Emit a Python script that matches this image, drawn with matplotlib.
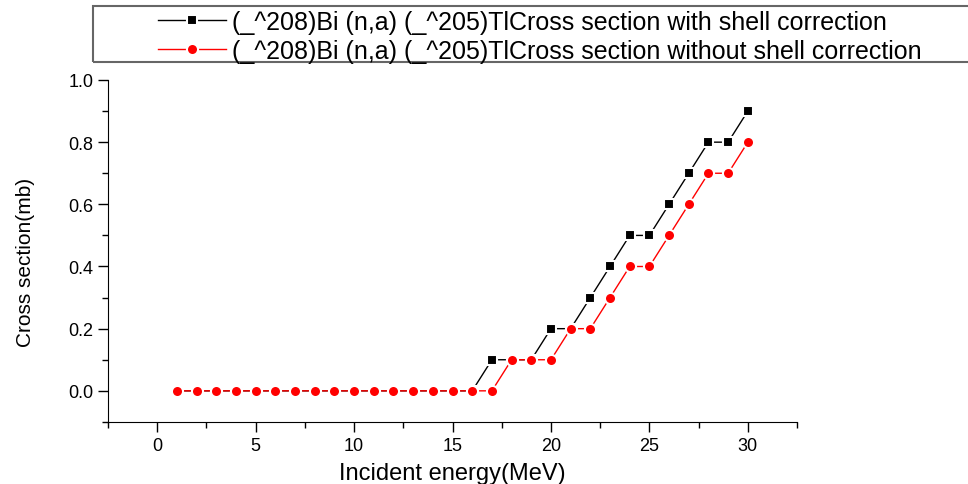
import numpy as np
import matplotlib
matplotlib.use("Agg")
from matplotlib import pyplot as plt
from matplotlib.patches import Rectangle

plt.rcParams['font.family'] = ['Liberation Sans', 'DejaVu Sans']

# incident energy (MeV)
energy = np.arange(1, 31)
# cross sections (mb)
with_shell = [0, 0, 0, 0, 0, 0, 0, 0, 0, 0, 0, 0, 0, 0, 0, 0,
              0.1, 0.1, 0.1, 0.2, 0.2, 0.3, 0.4, 0.5, 0.5, 0.6, 0.7, 0.8, 0.8, 0.9]
without_shell = [0, 0, 0, 0, 0, 0, 0, 0, 0, 0, 0, 0, 0, 0, 0, 0, 0,
                 0.1, 0.1, 0.1, 0.2, 0.2, 0.3, 0.4, 0.4, 0.5, 0.6, 0.7, 0.7, 0.8]
labels = ["(_^208)Bi (n,a) (_^205)TlCross section with shell correction",
          "(_^208)Bi (n,a) (_^205)TlCross section without shell correction"]

W, H = 968, 485
fig = plt.figure(figsize=(W / 100, H / 100), dpi=100)
ax = fig.add_axes([0.1116, 0.128, 0.7118, 0.705])

ax.plot(energy, with_shell, color='black', lw=1, marker='s', ms=7,
        mec='white', mew=1.5, label=labels[0])
ax.plot(energy, without_shell, color='red', lw=1, marker='o', ms=8,
        mec='white', mew=1.5, label=labels[1])

ax.set_xlim(-2.5, 32.5)
ax.set_ylim(-0.1, 1.0)
ax.set_xticks(np.arange(0, 31, 5))
ax.set_xticks(np.arange(-2.5, 32.6, 2.5), minor=True)
ax.set_yticks(np.arange(0, 1.01, 0.2))
ax.set_yticks(np.arange(-0.1, 1.01, 0.1), minor=True)
ax.set_yticklabels(["%.1f" % v for v in np.arange(0, 1.01, 0.2)])
ax.spines['top'].set_visible(False)
ax.spines['right'].set_visible(False)
ax.tick_params(direction='out', length=7, width=1, labelsize=13)
ax.tick_params(which='minor', direction='out', length=4, width=1)

ax.set_xlabel("Incident energy(MeV)", fontsize=17, labelpad=6)
ax.set_ylabel("Cross section(mb)", fontsize=15)
ax.yaxis.set_label_coords(-0.106, 0.47)

# legend without its own frame, Origin-like box drawn by hand
leg = fig.legend(loc='upper left', bbox_to_anchor=(158 / W, 1 - 11 / H),
                 fontsize=18, frameon=False, handlelength=2.7,
                 handletextpad=0.25, borderpad=0, labelspacing=0.2,
                 borderaxespad=0)
fig.patches.append(Rectangle((93 / W, 1 - 63 / H), (990 - 93) / W, 56 / H,
                             transform=fig.transFigure, fill=False,
                             ec='#666666', lw=1.5))

fig.savefig("out.png", dpi=100)
